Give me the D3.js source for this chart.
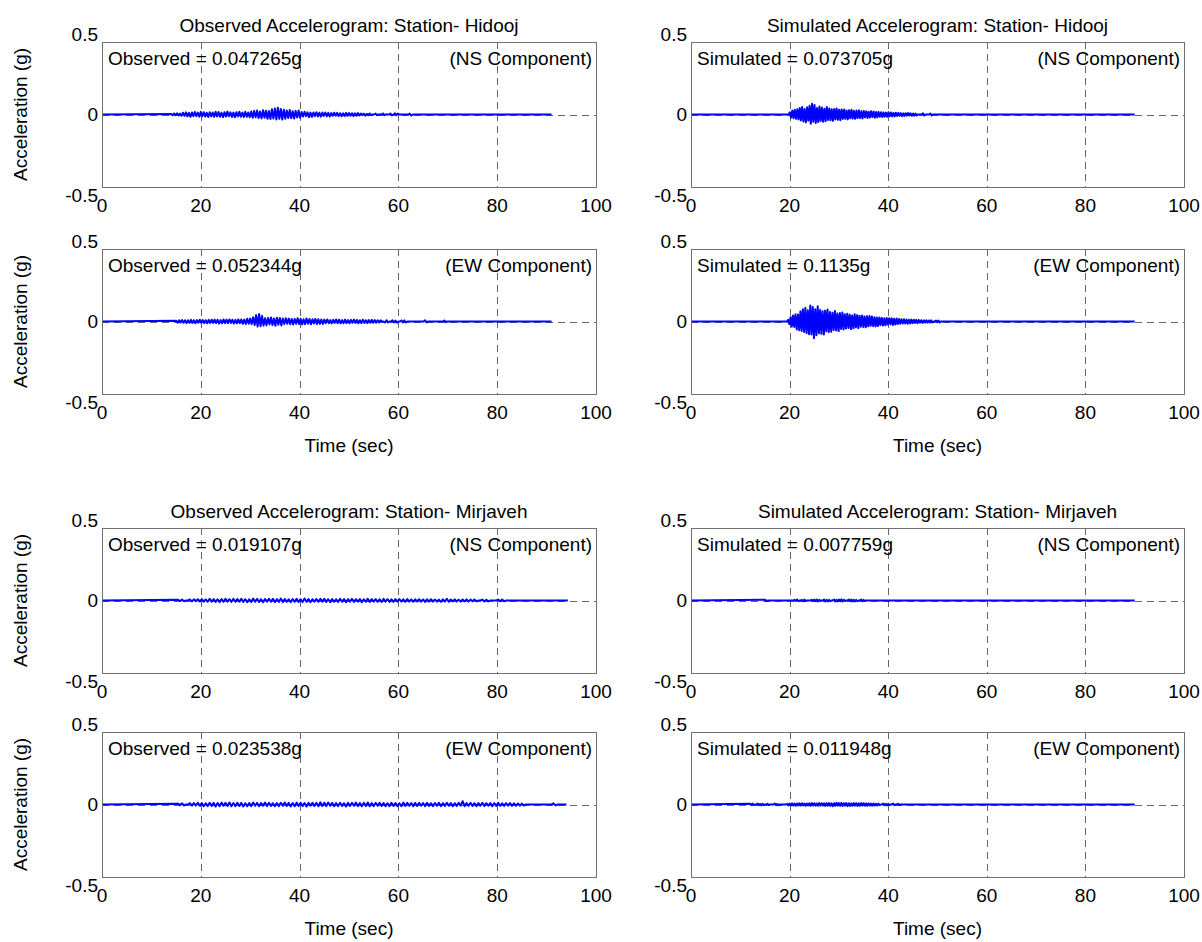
<!DOCTYPE html>
<html>
<head>
<meta charset="utf-8">
<script src="https://d3js.org/d3.v7.min.js"></script>
<style>
  body { margin: 0; background: #fff; }
  text { font-family: Arial, "Liberation Sans", sans-serif; fill: #000; }
</style>
</head>
<body>
<div id="chart"></div>
<script>
// acceleration samples, in milli-g
var obsHidoojNS = [4,-6,7,-5,8,-7,6,-9,
  12,-10,15,-13,11,-16,14,-12,17,-11,13,-15,18,-12,16,-14,12,-17,15,-13,
  14,-16,19,-13,17,-15,12,-18,16,-14,20,-12,15,-17,13,-19,16,-14,18,-15,13,-17,19,-16,14,-18,21,
  -22,25,-19,28,-24,21,-27,30,-23,26,-29,24,-31,
  36,-28,42,-34,47,-30,38,-35,33,-29,
  28,-24,31,-26,22,-28,25,-21,27,-23,
  17,-14,19,-12,15,-18,13,-16,14,-11,16,-13,12,-15,14,-10,13,-12,11,-14,
  10,-9,12,-8,11,-10,9,-12,8,-10,11,-9,10,-8,9,-11,8,-9,10,-7,
  7,-5,6,-8,5,-6,7,-4,0,0,6,-5,0,
  0,0,7,-5,0,0,0,6,-6,0,8,-5,7,0,0,0,0,0,0,0,6,-7,0,0,0,0,0]

var simHidoojNS = [0,15,-22,28,-25,32,-30,36,-34,
  45,-40,52,-48,38,-55,50,-42,
  60,-63,74,-50,66,-58,45,-52,
  55,-45,48,-50,40,-46,52,-38,
  42,-40,36,-44,38,-34,41,-37,33,-39,35,-31,
  34,-30,28,-33,30,-26,32,-28,25,-30,27,-24,29,-25,22,-27,
  24,-20,22,-25,19,-21,23,-18,20,-22,17,-19,
  18,-15,16,-17,14,-16,13,-15,15,-12,14,-13,11,-14,12,-10,
  11,-9,10,-11,8,-10,9,-8,10,-7,8,-9,7,-8,6,-7,
  0,0,0,0,8,-7,0,0,0,0,7,-6,0,0]

var obsHidoojEW = [6,-8,9,-7,10,-9,8,-11,9,-8,11,-10,9,-12,10,-8,12,-9,10,-11,9,-12,11,-10,
  12,-10,13,-11,12,-14,10,-12,14,-11,13,-12,15,-10,12,-14,11,-13,15,-12,14,-16,13,
  -17,19,-15,21,-18,
  30,-24,44,-35,52,-32,38,-28,
  22,-27,25,-20,28,-24,21,-29,26,-22,24,-27,20,
  -18,22,-16,20,-19,17,-21,18,-15,22,-17,19,-20,16,-18,21,-15,17,-19,16,-14,18,-17,15,-16,14,-17,
  13,-11,14,-12,10,-13,12,-10,14,-11,12,-13,10,-12,13,-11,10,-12,11,-9,13,-10,11,-12,9,-11,12,-10,9,-11,10,-8,11,-9,10,-8,9,
  -7,8,0,0,-7,9,-6,0,0,8,-7,6,-8,0,0,7,-6,8,-7,0,
  0,0,0,0,0,0,0,0,0,0,0,8,-6,0,0,0,0,0,0,0,0,0,0,0,7,-5,0]

var simHidoojEW = [0,0,12,-18,
  30,-35,42,-38,50,-55,48,-60,
  70,-65,85,-72,95,-80,78,-88,
  110,-90,100,-115,85,-95,105,-80,
  80,-85,70,-90,75,-68,82,-72,
  65,-70,60,-58,72,-62,55,-66,58,-52,62,-55,
  50,-48,54,-45,46,-52,42,-47,50,-40,44,-46,
  40,-36,42,-38,34,-40,36,-33,38,-30,35,-32,30,-34,28,-31,
  27,-24,25,-28,22,-26,24,-21,23,-20,22,-24,19,-21,20,-18,
  17,-15,16,-14,15,-13,14,-15,12,-14,13,-11,12,-10,11,-12,
  10,-8,9,-10,8,-7,9,-8,7,-6,8,-7,0,0,6,-5,
  7,-6,0,0,0,0,0,0]

var obsMirjNS = [5,-4,6,-5,0,0,7,-6,8,-5,
  9,-7,10,-8,7,-9,11,-8,9,-10,
  8,-11,10,-9,12,-8,9,-10,11,-9,
  10,-8,12,-10,9,-11,8,-10,13,-9,
  11,-10,9,-12,10,-8,11,-9,12,-11,
  9,-10,13,-11,10,-9,8,-12,10,-9,
  12,-10,9,-11,14,-9,10,-12,9,-8,
  10,-9,11,-8,12,-10,9,-11,10,-9,
  8,-10,11,-9,10,-12,9,-8,11,-10,
  9,-8,10,-11,8,-9,12,-10,9,-8,
  10,-9,8,-10,11,-8,9,-10,8,-9,
  9,-8,10,-7,8,-9,10,-8,7,-9,
  8,-7,9,-8,7,-10,8,-7,9,-8,
  7,-8,6,-9,8,-7,12,-9,7,-6,
  8,-7,6,-8,7,-6,8,-7,6,-5,
  7,-6,0,0,6,-7,5,-6,0,0,
  0,0,6,-5,7,-6,0,0,0,0]

var simMirjNS = [6,-5,0,0,0,0,0,0,
  0,0,0,0,0,0,0,0,0,0,0,0,0,0,0,0,
  5,-4,6,-5,0,0,4,-5,6,-4,0,0,0,0,5,-4,
  6,-5,7,-6,5,-4,0,0,6,-7,5,-6,4,-5,0,0,
  7,-6,5,-7,6,-5,8,-6,5,-4,0,0,6,-5,7,-6,
  5,-6,4,-5,0,0,6,-5,4,-3,0,0]

var obsMirjEW = [6,-5,8,-7,0,0,9,-8,10,-7,
  11,-9,10,-12,9,-11,12,-10,11,-13,
  10,-12,13,-9,11,-10,14,-12,10,-11,
  12,-10,11,-13,9,-12,10,-11,13,-9,
  11,-12,10,-9,13,-11,12,-10,9,-12,
  10,-11,12,-9,14,-10,11,-13,10,-12,
  13,-10,12,-11,10,-14,11,-9,12,-10,
  11,-12,15,-10,12,-11,13,-9,11,-12,
  10,-11,12,-10,9,-13,11,-10,12,-9,
  13,-11,10,-12,11,-10,14,-12,10,-11,
  11,-9,12,-10,10,-12,9,-11,12,-10,
  10,-11,9,-12,13,-10,11,-9,10,-12,
  12,-10,11,-9,10,-11,12,-10,9,-11,
  10,-9,12,-11,9,-10,11,-9,10,-12,
  9,-10,11,-9,23,-12,10,-9,11,-10,
  9,-11,10,-9,12,-10,9,-8,10,-11,
  9,-10,11,-9,8,-10,9,-8,10,-9,
  8,-9,7,-8,6,-7,0,0,0,0,
  0,0,0,0,0,0,0,0,0,0,
  8,-6,0]

var simMirjEW = [5,-4,6,-5,0,0,6,-5,4,-6,5,-4,0,0,5,-4,
  0,0,0,0,6,-5,4,-5,0,0,0,0,0,0,5,-6,
  7,-6,8,-7,6,-8,7,-6,8,-7,9,-6,7,-8,6,-7,
  8,-9,10,-7,9,-8,7,-9,10,-8,9,-7,8,-10,9,-8,
  10,-9,8,-11,9,-10,12,-8,10,-9,11,-10,9,-8,10,-11,
  9,-10,8,-9,10,-8,9,-10,8,-9,10,-7,9,-8,7,-9,
  8,-7,6,-8,7,-6,5,-7,6,-5,0,0,6,-5,4,-6,
  5,-4,0,0,6,-5,0,0,5,-4,0,0]

// panel order: row by row, observed on the left, simulated on the right
var records = [obsHidoojNS, simHidoojNS, obsHidoojEW, simHidoojEW,
               obsMirjNS, simMirjNS, obsMirjEW, simMirjEW]
var startTimes = [14, 19.8, 15, 19.2, 15.4, 15, 15.4, 12]     // sec, first sample
var sampleSteps = [0.3, 0.25, 0.3, 0.25, 0.4, 0.25, 0.4, 0.25] // sec
var endTimes = [91, 90, 91, 90, 94.3, 90, 94, 90]              // sec, record length

var titles = ["Observed Accelerogram: Station- Hidooj", "Simulated Accelerogram: Station- Hidooj",
              "Observed Accelerogram: Station- Mirjaveh", "Simulated Accelerogram: Station- Mirjaveh"]
var peakLabels = ["Observed = 0.047265g", "Simulated = 0.073705g",
                  "Observed = 0.052344g", "Simulated = 0.1135g",
                  "Observed = 0.019107g", "Simulated = 0.007759g",
                  "Observed = 0.023538g", "Simulated = 0.011948g"]
var components = ["(NS Component)", "(NS Component)", "(EW Component)", "(EW Component)",
                  "(NS Component)", "(NS Component)", "(EW Component)", "(EW Component)"]

var xTicks = [0, 20, 40, 60, 80, 100]
var yTicks = [-0.5, 0, 0.5]
var yTickLabels = ["-0.5", "0", "0.5"]

// layout
var colLeft = [102, 691], colWidth = [494, 493]
var rowTop = [42, 249, 528, 732], panelH = 145
var fs = "19px"

var svg = d3.select("#chart")
  .append("svg")
    .attr("width", 1202)
    .attr("height", 942)

records.forEach(function(acc, i) {
  var row = Math.floor(i / 2), col = i % 2
  var w = colWidth[col], h = panelH

  var g = svg.append("g")
    .attr("transform", "translate(" + colLeft[col] + "," + rowTop[row] + ")")

  var x = d3.scaleLinear().domain([0, 100]).range([0, w])
  var y = d3.scaleLinear().domain([-0.5, 0.5]).range([h, 0])

  // dashed grid
  g.selectAll(".vgrid")
    .data(xTicks.slice(1, -1))
    .enter()
    .append("line")
      .attr("x1", function(d) { return Math.round(x(d)) + 0.5 })
      .attr("x2", function(d) { return Math.round(x(d)) + 0.5 })
      .attr("y1", 0)
      .attr("y2", h)
      .attr("stroke", "#555")
      .attr("stroke-width", 0.9)
      .style("stroke-dasharray", "7,5")
  g.append("line")
    .attr("x1", 0).attr("x2", w)
    .attr("y1", Math.round(y(0)) + 0.5).attr("y2", Math.round(y(0)) + 0.5)
    .attr("stroke", "#555")
    .attr("stroke-width", 0.9)
    .style("stroke-dasharray", "7,5")

  // trace: quiet before the first sample and after the last one
  var pts = [[0, 0]]
  acc.forEach(function(v, k) { pts.push([startTimes[i] + k * sampleSteps[i], v / 1000]) })
  pts.push([startTimes[i] + acc.length * sampleSteps[i], 0])
  pts.push([endTimes[i], 0])

  g.append("path")
    .datum(pts)
    .attr("fill", "none")
    .attr("stroke", "#0000ff")
    .attr("stroke-width", 2)
    .attr("stroke-linejoin", "round")
    .attr("d", d3.line()
      .x(function(d) { return x(d[0]) })
      .y(function(d) { return y(d[1]) }))

  // box
  g.append("rect")
    .attr("x", 0.5).attr("y", 0.5)
    .attr("width", w).attr("height", h)
    .attr("fill", "none")
    .attr("stroke", "#707070")
    .attr("stroke-width", 1)

  // tick labels
  g.selectAll(".xt")
    .data(xTicks)
    .enter()
    .append("text")
      .attr("x", function(d) { return x(d) })
      .attr("y", h + 25)
      .attr("text-anchor", "middle")
      .style("font-size", fs)
      .text(function(d) { return d })
  g.selectAll(".yt")
    .data(yTicks)
    .enter()
    .append("text")
      .attr("x", -4)
      .attr("y", function(d) { return y(d) + (d > 0 ? -8 : d < 0 ? 8 : 0) })
      .attr("text-anchor", "end")
      .attr("dominant-baseline", "central")
      .style("font-size", fs)
      .text(function(d, k) { return yTickLabels[k] })

  // annotations
  g.append("text")
    .attr("x", 6).attr("y", 23)
    .style("font-size", fs)
    .text(peakLabels[i])
  g.append("text")
    .attr("x", w - 4).attr("y", 23)
    .attr("text-anchor", "end")
    .style("font-size", fs)
    .text(components[i])

  if (row % 2 == 0) {
    g.append("text")
      .attr("x", w / 2).attr("y", -10)
      .attr("text-anchor", "middle")
      .style("font-size", fs)
      .text(titles[row + col])
  } else {
    g.append("text")
      .attr("x", w / 2).attr("y", h + 58)
      .attr("text-anchor", "middle")
      .style("font-size", fs)
      .text("Time (sec)")
  }

  if (col == 0) {
    g.append("text")
      .attr("transform", "translate(" + (20 - colLeft[0]) + "," + (h / 2) + ")rotate(-90)")
      .attr("text-anchor", "middle")
      .attr("dominant-baseline", "central")
      .style("font-size", fs)
      .text("Acceleration (g)")
  }
})
</script>
</body>
</html>
